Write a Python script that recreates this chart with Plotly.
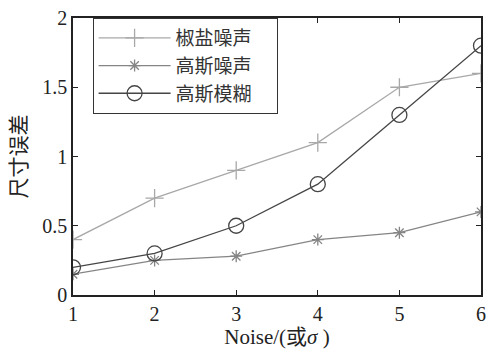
import plotly.graph_objects as go

x_vals = [1, 2, 3, 4, 5, 6]
salt_pepper = [0.4, 0.7, 0.9, 1.1, 1.5, 1.6]
gauss_noise = [0.15, 0.25, 0.28, 0.4, 0.45, 0.6]
gauss_blur = [0.2, 0.3, 0.5, 0.8, 1.3, 1.8]
names = ["椒盐噪声", "高斯噪声", "高斯模糊"]
x_ticks = [1, 2, 3, 4, 5, 6]
y_ticks = [0, 0.5, 1, 1.5, 2]
y_tick_text = ["0", "0.5", "1", "1.5", "2"]

serif = "Liberation Serif, Times New Roman, serif"
cjk = "Liberation Serif, Noto Sans CJK SC, serif"
pad = "\u2003"

fig = go.Figure()
fig.add_trace(go.Scatter(x=x_vals, y=salt_pepper, name=names[0] + pad, mode="lines+markers",
                         line=dict(color="#a8a8a8", width=1.3),
                         marker=dict(symbol="cross-thin", size=13, line=dict(color="#a8a8a8", width=1.3))))
fig.add_trace(go.Scatter(x=x_vals, y=gauss_noise, name=names[1] + pad, mode="lines+markers",
                         line=dict(color="#858585", width=1.3),
                         marker=dict(symbol="asterisk", size=10, line=dict(color="#858585", width=1.3))))
fig.add_trace(go.Scatter(x=x_vals, y=gauss_blur, name=names[2] + pad, mode="lines+markers",
                         line=dict(color="#454545", width=1.3),
                         marker=dict(symbol="circle-open", size=15, line=dict(color="#454545", width=1.3))))

fig.update_layout(
    width=493, height=352,
    margin=dict(l=73, r=7, t=14, b=57),
    paper_bgcolor="white", plot_bgcolor="white",
    font=dict(family=serif, size=17, color="#222"),
    showlegend=True,
    legend=dict(x=0.048, y=1.0, xanchor="left", yanchor="top",
                bordercolor="#333", borderwidth=1, bgcolor="white",
                font=dict(family=cjk, size=19, color="#333"),
                itemwidth=72, tracegroupgap=0),
    xaxis=dict(range=[1, 6], tickvals=x_ticks, ticks="inside", ticklen=5, tickcolor="#222",
               showline=True, linecolor="#222", linewidth=1.5, mirror="ticks",
               showgrid=False, zeroline=False,
               tickfont=dict(family=serif, size=20),
               title=dict(text="Noise/(或<i>σ</i> )", font=dict(family=cjk, size=21), standoff=6)),
    yaxis=dict(range=[0, 2], tickvals=y_ticks, ticktext=y_tick_text, ticks="inside", ticklen=5,
               tickcolor="#222", showline=True, linecolor="#222", linewidth=1.5, mirror="ticks",
               showgrid=False, zeroline=False,
               tickfont=dict(family=serif, size=20),
               title=dict(text="尺寸误差", font=dict(family=cjk, size=21), standoff=10)),
)

fig.write_html("out.html")
